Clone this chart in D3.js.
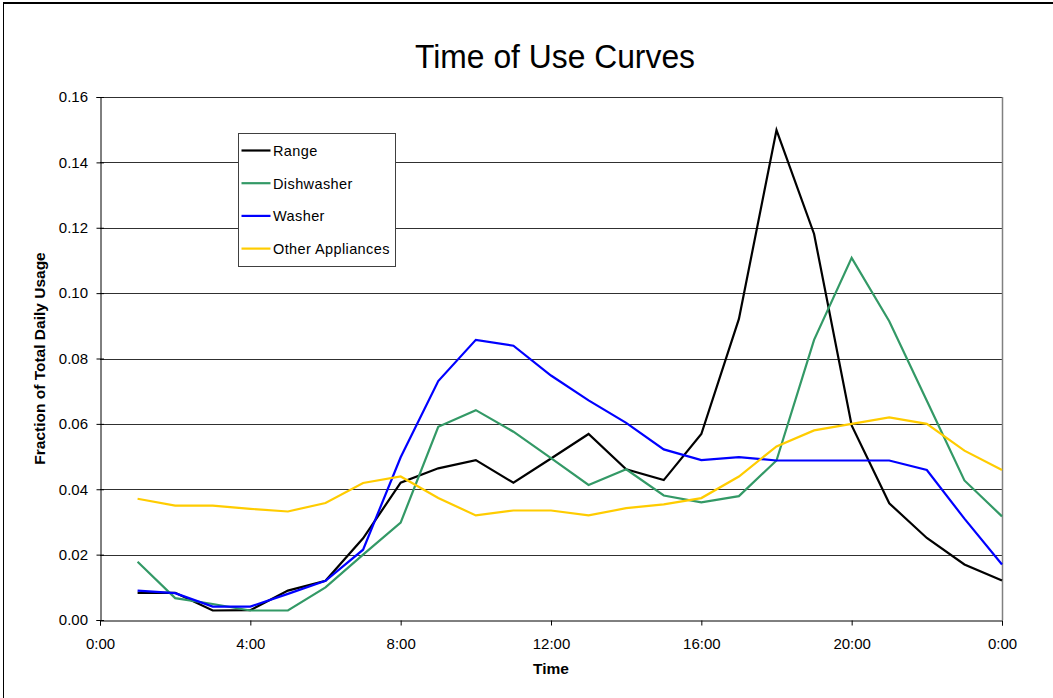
<!DOCTYPE html>
<html>
<head>
<meta charset="utf-8">
<script src="https://cdn.jsdelivr.net/npm/d3@7"></script>
<style>
  html, body { margin: 0; padding: 0; background: #fff; }
  svg { display: block; font-family: "Liberation Sans", Arial, sans-serif; }
</style>
</head>
<body>
<svg id="chart" width="1053" height="698"></svg>
<script>
// Hour of day for each reading (1:00 through 24:00)
const hours = [1,2,3,4,5,6,7,8,9,10,11,12,13,14,15,16,17,18,19,20,21,22,23,24];

const seriesNames = ["Range", "Dishwasher", "Washer", "Other Appliances"];
const seriesColors = ["#000000", "#339966", "#0000FF", "#FFCC00"];

const rangeValues = [0.0083,0.0083,0.0029,0.0030,0.0090,0.0120,0.0250,0.0420,0.0464,0.0489,0.0420,0.0494,
                     0.0569,0.0461,0.0428,0.0569,0.0921,0.1499,0.1181,0.0595,0.0357,0.0251,0.0170,0.0121];
const dishwasherValues = [0.0178,0.0067,0.0049,0.0029,0.0029,0.0100,0.0200,0.0298,0.0591,0.0642,0.0576,0.0495,
                          0.0413,0.0461,0.0381,0.0360,0.0379,0.0488,0.0857,0.1108,0.0914,0.0671,0.0427,0.0317];
const washerValues = [0.0090,0.0082,0.0041,0.0041,0.0080,0.0120,0.0215,0.0498,0.0731,0.0857,0.0839,0.0748,
                      0.0672,0.0603,0.0522,0.0489,0.0498,0.0488,0.0488,0.0488,0.0488,0.0459,0.0310,0.0170];
const otherValues = [0.0371,0.0350,0.0350,0.0340,0.0332,0.0358,0.0419,0.0439,0.0373,0.0320,0.0335,0.0335,
                     0.0320,0.0342,0.0354,0.0373,0.0439,0.0531,0.0580,0.0600,0.0620,0.0600,0.0518,0.0459];

const yTicks = [0, 0.02, 0.04, 0.06, 0.08, 0.10, 0.12, 0.14, 0.16];
const xTicks = [0, 4, 8, 12, 16, 20, 24];
const xTickLabels = ["0:00", "4:00", "8:00", "12:00", "16:00", "20:00", "0:00"];

const chartTitle = "Time of Use Curves";
const xTitle = "Time";
const yTitle = "Fraction of Total Daily Usage";

const series = seriesNames.map((name, i) => ({
  name,
  color: seriesColors[i],
  values: [rangeValues, dishwasherValues, washerValues, otherValues][i]
}));

const svg = d3.select("#chart");
const W = 1053, H = 698;
const margin = { left: 100, right: 51, top: 97, bottom: 78 };
const plotW = W - margin.left - margin.right;
const plotH = H - margin.top - margin.bottom;

// Outer chart frame
svg.append("line").attr("x1", 3).attr("x2", W).attr("y1", 3).attr("y2", 3)
  .attr("stroke", "#000").attr("stroke-width", 2);
svg.append("line").attr("x1", 3.5).attr("x2", 3.5).attr("y1", 3).attr("y2", H)
  .attr("stroke", "#000").attr("stroke-width", 1);

const x = d3.scaleLinear().domain([0, 24]).range([margin.left, margin.left + plotW]);
const y = d3.scaleLinear().domain([0, 0.16]).range([margin.top + plotH, margin.top]);

// Horizontal gridlines
svg.append("g")
  .selectAll("line")
  .data(yTicks.slice(1))
  .join("line")
  .attr("x1", x(0)).attr("x2", x(24))
  .attr("y1", d => Math.round(y(d)) + 0.5).attr("y2", d => Math.round(y(d)) + 0.5)
  .attr("stroke", "#303030").attr("stroke-width", 1);

// Right border of the plot area
svg.append("line")
  .attr("x1", Math.round(x(24)) + 0.5).attr("x2", Math.round(x(24)) + 0.5)
  .attr("y1", y(0.16)).attr("y2", y(0))
  .attr("stroke", "#808080").attr("stroke-width", 1.5);

// Y axis
const yAxis = d3.axisLeft(y).tickValues(yTicks).tickFormat(d3.format(".2f")).tickSize(4).tickPadding(8.5);
const gy = svg.append("g").attr("transform", `translate(${Math.round(x(0)) + 0.5},0)`).call(yAxis);
gy.select(".domain").attr("stroke", "#000");
gy.selectAll(".tick line").attr("stroke", "#000").attr("x2", 3.5).attr("x1", -4);
gy.selectAll("text").attr("font-size", 15).attr("fill", "#000")
  .attr("font-family", "Liberation Sans, Arial, sans-serif");

// X axis
const xAxis = d3.axisBottom(x).tickValues(xTicks).tickFormat((d, i) => xTickLabels[i]).tickSize(5).tickPadding(12.5);
const gx = svg.append("g").attr("transform", `translate(0,${Math.round(y(0)) + 0.5})`).call(xAxis);
gx.select(".domain").attr("stroke", "#000");
gx.selectAll(".tick line").attr("stroke", "#000");
gx.selectAll("text").attr("font-size", 15).attr("fill", "#000")
  .attr("font-family", "Liberation Sans, Arial, sans-serif");

// Series lines
const line = d3.line().x((d, i) => x(hours[i])).y(d => y(d));
svg.append("g")
  .selectAll("path")
  .data(series)
  .join("path")
  .attr("d", s => line(s.values))
  .attr("fill", "none")
  .attr("stroke", s => s.color)
  .attr("stroke-width", 2.2)
  .attr("stroke-linejoin", "miter");

// Titles
svg.append("text")
  .attr("x", 555).attr("y", 68)
  .attr("text-anchor", "middle")
  .attr("font-size", 34)
  .attr("textLength", 280)
  .attr("lengthAdjust", "spacingAndGlyphs")
  .text(chartTitle);

svg.append("text")
  .attr("x", x(12)).attr("y", 674)
  .attr("text-anchor", "middle")
  .attr("font-size", 15.5).attr("font-weight", "bold")
  .text(xTitle);

svg.append("text")
  .attr("transform", `translate(45,${y(0.08)}) rotate(-90)`)
  .attr("text-anchor", "middle")
  .attr("font-size", 15.5).attr("font-weight", "bold")
  .text(yTitle);

// Legend
const legend = svg.append("g").attr("transform", "translate(238.5,133.5)");
legend.append("rect")
  .attr("width", 157).attr("height", 133)
  .attr("fill", "#fff").attr("stroke", "#404040").attr("stroke-width", 1);
const rows = legend.selectAll("g.row")
  .data(series)
  .join("g")
  .attr("class", "row")
  .attr("transform", (d, i) => `translate(0,${17 + i * 32.7})`);
rows.append("line")
  .attr("x1", 3).attr("x2", 32).attr("y1", 0).attr("y2", 0)
  .attr("stroke", d => d.color).attr("stroke-width", 2.2);
rows.append("text")
  .attr("x", 34.5).attr("y", 5.5)
  .attr("font-size", 14.5)
  .attr("letter-spacing", 0.4)
  .text(d => d.name);
</script>
</body>
</html>
